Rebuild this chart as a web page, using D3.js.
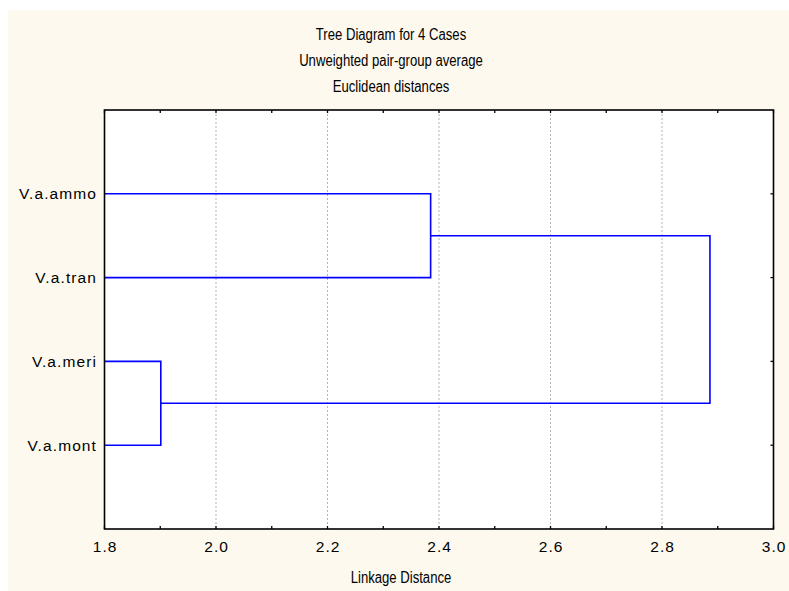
<!DOCTYPE html>
<html>
<head>
<meta charset="utf-8">
<script src="https://cdnjs.cloudflare.com/ajax/libs/d3/7.8.5/d3.min.js"></script>
<style>
  body { margin: 0; background: #ffffff; }
  svg { display: block; }
</style>
</head>
<body>
<div id="chart"></div>
<script>
const leaves = ["V.a.ammo", "V.a.tran", "V.a.meri", "V.a.mont"];
// linkage rows: node ids 0..3 are leaves, 4.. are merges in order
const linkA = [2, 0, 5];
const linkB = [3, 1, 4];
const linkDist = [1.901, 2.385, 2.886];
const xTicks = [1.8, 2.0, 2.2, 2.4, 2.6, 2.8, 3.0];
const minorTicks = [1.9, 2.1, 2.3, 2.5, 2.7, 2.9];
const titles = ["Tree Diagram for 4 Cases", "Unweighted pair-group average", "Euclidean distances"];

const width = 789, height = 591;
const plotL = 104.5, plotR = 773.5, plotT = 110, plotB = 529;

const svg = d3.select("#chart").append("svg")
  .attr("width", width).attr("height", height);

svg.append("rect")
  .attr("x", 8).attr("y", 10)
  .attr("width", width - 8).attr("height", height - 10)
  .attr("fill", "#fdf9ee");

svg.append("rect")
  .attr("x", plotL).attr("y", plotT)
  .attr("width", plotR - plotL).attr("height", plotB - plotT)
  .attr("fill", "#ffffff");

const x = d3.scaleLinear().domain([1.8, 3.0]).range([plotL, plotR]);
const y = d3.scalePoint().domain(leaves).range([plotT, plotB]).padding(1);

// grid
svg.selectAll("line.grid")
  .data(xTicks.slice(1, -1))
  .enter().append("line")
  .attr("class", "grid")
  .attr("x1", d => x(d)).attr("x2", d => x(d))
  .attr("y1", plotT).attr("y2", plotB)
  .attr("stroke", "#b4b4b4")
  .attr("stroke-width", 1)
  .attr("stroke-dasharray", "2,2");

// node positions
const nodes = leaves.map(l => ({ x: x(1.8), y: y(l) }));
linkDist.forEach((d, i) => {
  const a = nodes[linkA[i]], b = nodes[linkB[i]];
  nodes.push({ x: x(d), y: (a.y + b.y) / 2 });
});

svg.selectAll("path.link")
  .data(linkDist)
  .enter().append("path")
  .attr("class", "link")
  .attr("d", (d, i) => {
    const a = nodes[linkA[i]], b = nodes[linkB[i]], xm = x(d);
    return `M${a.x},${a.y}H${xm}V${b.y}H${b.x}`;
  })
  .attr("fill", "none")
  .attr("stroke", "#0000ff")
  .attr("stroke-width", 1.6);

// frame
svg.append("rect")
  .attr("x", plotL).attr("y", plotT)
  .attr("width", plotR - plotL).attr("height", plotB - plotT)
  .attr("fill", "none")
  .attr("stroke", "#000000")
  .attr("stroke-width", 1.6);

// ticks on bottom and top, pointing inward
const allTicks = xTicks.concat(minorTicks);
[plotB, plotT].forEach(yy => {
  const dir = yy === plotB ? -1 : 1;
  svg.selectAll(null)
    .data(allTicks)
    .enter().append("line")
    .attr("x1", d => x(d)).attr("x2", d => x(d))
    .attr("y1", yy).attr("y2", yy + dir * 3)
    .attr("stroke", "#000").attr("stroke-width", 1.3);
});

// right ticks at leaves
svg.selectAll(null)
  .data(leaves)
  .enter().append("line")
  .attr("x1", plotR).attr("x2", plotR - 3)
  .attr("y1", d => y(d)).attr("y2", d => y(d))
  .attr("stroke", "#000").attr("stroke-width", 1.3);

// tick labels
svg.selectAll("text.xtick")
  .data(xTicks)
  .enter().append("text")
  .attr("class", "xtick")
  .attr("x", d => x(d) + 0.6)
  .attr("y", 552)
  .attr("text-anchor", "middle")
  .attr("font-family", "Liberation Sans, Arial, sans-serif")
  .attr("font-size", "15.5px")
  .attr("letter-spacing", "1.1px")
  .attr("fill", "#000")
  .text(d => d.toFixed(1));

svg.selectAll("text.leaf")
  .data(leaves)
  .enter().append("text")
  .attr("class", "leaf")
  .attr("x", 97)
  .attr("y", d => y(d) + 5.5)
  .attr("text-anchor", "end")
  .attr("font-family", "Liberation Sans, Arial, sans-serif")
  .attr("font-size", "15.5px")
  .attr("letter-spacing", "1.1px")
  .attr("fill", "#000")
  .text(d => d);

// titles, in a horizontally condensed face
const titleG = svg.append("g")
  .attr("transform", "translate(391,0) scale(0.82,1)");

titleG.selectAll("text.title")
  .data(titles)
  .enter().append("text")
  .attr("class", "title")
  .attr("x", 0)
  .attr("y", (d, i) => 40.5 + i * 26)
  .attr("text-anchor", "middle")
  .attr("font-family", "Liberation Sans, Arial, sans-serif")
  .attr("font-size", "16px")
  .attr("fill", "#000")
  .text(d => d);

svg.append("g")
  .attr("transform", "translate(401,0) scale(0.82,1)")
  .append("text")
  .attr("x", 0)
  .attr("y", 583.5)
  .attr("text-anchor", "middle")
  .attr("font-family", "Liberation Sans, Arial, sans-serif")
  .attr("font-size", "16px")
  .attr("fill", "#000")
  .text("Linkage Distance");
</script>
</body>
</html>
